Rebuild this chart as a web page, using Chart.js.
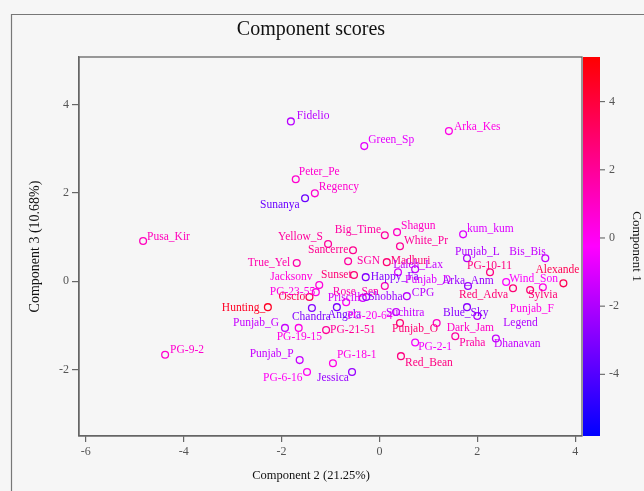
<!DOCTYPE html>
<html>
<head>
<meta charset="utf-8">
<script src="https://cdn.jsdelivr.net/npm/chart.js@4.4.1/dist/chart.umd.min.js"></script>
<style>
  html, body { margin: 0; padding: 0; background: #f6f6f6; }
  canvas { display: block; }
</style>
</head>
<body>
<canvas id="scores" width="644" height="491"></canvas>
<script>
// Cultivar scores on the first three principal components
const cultivars = [
  'Fidelio','Green_Sp','Arka_Kes','Peter_Pe','Regency','Sunanya','Pusa_Kir','Yellow_S',
  'Sancerre','Big_Time','Shagun','White_Pr','kum_kum','True_Yel','SGN','Madhuri',
  'Laleh_Lax','Punjab_L','Bis_Bis','PG-10-11','Alexande','Wind_Son','Jacksonv','Sunset',
  'Happy_Fa','Punjab_D','Arka_Anm','Red_Adva','Sylvia','PG-23-55','Oscio','Rose_Sen',
  'Priscill','Shobha','CPG','Hunting_','Chandra','Angela','PG-20-64','Suchitra',
  'Blue_Sky','Punjab_F','Legend','Punjab_G','PG-19-15','PG-21-51','Punjab_O','Dark_Jam',
  'Praha','Dhanavan','PG-2-1','Red_Bean','Punjab_P','PG-18-1','PG-6-16','Jessica','PG-9-2'
];
// Component 2 (x)
const comp2 = [
  -1.81,-0.31, 1.42,-1.71,-1.32,-1.52,-4.83,-1.05,
  -0.54, 0.11, 0.36, 0.42, 1.71,-1.69,-0.64, 0.15,
   0.73, 1.79, 3.39, 2.26, 3.76, 2.59,-1.23,-0.52,
  -0.28, 0.38, 1.81, 2.73, 3.08,-1.30,-1.43, 0.11,
  -0.34,-0.27, 0.56,-2.28,-1.38,-0.87,-0.68, 0.34,
   1.79, 3.34, 2.00,-1.93,-1.65,-1.09, 0.42, 1.17,
   1.55, 2.38, 0.73, 0.44,-1.63,-0.95,-1.48,-0.56,-4.38
];
// Component 3 (y)
const comp3 = [
   3.62, 3.06, 3.40, 2.31, 1.99, 1.88, 0.91, 0.84,
   0.70, 1.04, 1.11, 0.79, 1.06, 0.41, 0.45, 0.43,
   0.27, 0.52, 0.52, 0.20,-0.05,-0.02,-0.09, 0.14,
   0.09, 0.20,-0.11,-0.16,-0.20,-0.25,-0.36,-0.11,
  -0.38,-0.36,-0.34,-0.59,-0.61,-0.59,-0.48,-0.70,
  -0.59,-0.14,-0.79,-1.06,-1.06,-1.11,-0.95,-0.95,
  -1.25,-1.30,-1.39,-1.70,-1.79,-1.86,-2.06,-2.06,-1.67
];
// Component 1 (point colour)
const comp1 = [
  -1.8,-0.8, 0.3, 0.8, 0.8,-3.5, 1.2, 1.9,
   2.2, 1.8, 1.0, 2.0,-1.0, 1.6, 1.8, 2.8,
  -1.5,-2.0,-1.5, 2.5, 3.5,-0.3, 0.5, 2.8,
  -3.0,-1.0,-2.5, 2.8, 2.8, 0.3, 3.5, 1.5,
  -1.2,-2.5,-1.8, 4.5,-3.0,-3.2, 0.0,-1.5,
  -2.8, 0.3,-2.0,-1.5, 0.3, 2.0, 2.8, 1.0,
   1.8,-1.5,-0.5, 2.5,-1.5, 0.3, 0.0,-2.5, 0.8
];

const xTicks = [-6, -4, -2, 0, 2, 4];
const yTicks = [-2, 0, 2, 4];
const colorTicks = [-4, -2, 0, 2, 4];
const colorRange = [-5.81, 5.31];

// Where each name sits relative to its circle: [dx to text start, dy to text middle], px
const labelOffset = {
  'Fidelio':[6,-5], 'Green_Sp':[4,-6], 'Arka_Kes':[5,-4], 'Peter_Pe':[3,-7], 'Regency':[4,-6],
  'Sunanya':[-45,7], 'Pusa_Kir':[4,-4], 'Yellow_S':[-50,-7], 'Sancerre':[-45,0], 'Big_Time':[-50,-5],
  'Shagun':[4,-6], 'White_Pr':[4,-5], 'kum_kum':[4,-5], 'True_Yel':[-49,0], 'SGN':[9,0],
  'Madhuri':[4,-1], 'Laleh_Lax':[-22,-4], 'Punjab_L':[-12,-6], 'Bis_Bis':[-36,-6], 'PG-10-11':[-23,-6],
  'Alexande':[-28,-13], 'Wind_Son':[3,-3], 'Jacksonv':[-49,-8], 'Sunset':[-33,0], 'Happy_Fa':[5,0],
  'Punjab_D':[7,8], 'Arka_Anm':[-26,-5], 'Red_Adva':[-54,7], 'Sylvia':[-2,5], 'PG-23-55':[-46,0],
  'Oscio':[-31,0], 'Rose_Sen':[-52,6], 'Priscill':[-35,0], 'Shobha':[2,0], 'CPG':[5,-3],
  'Hunting_':[-46,1], 'Chandra':[-20,9], 'Angela':[-9,8], 'PG-20-64':[1,14], 'Suchitra':[-10,1],
  'Blue_Sky':[-24,6], 'Punjab_F':[-33,22], 'Legend':[26,7], 'Punjab_G':[-52,-5], 'PG-19-15':[-22,9],
  'PG-21-51':[4,0], 'Punjab_O':[-8,6], 'Dark_Jam':[10,5], 'Praha':[4,7], 'Dhanavan':[-2,5],
  'PG-2-1':[3,5], 'Red_Bean':[4,7], 'Punjab_P':[-50,-6], 'PG-18-1':[4,-8], 'PG-6-16':[-44,6],
  'Jessica':[-35,6], 'PG-9-2':[5,-5]
};

const SERIF = '"Liberation Serif", "DejaVu Serif", serif';

function scoreColor(v) {
  let t = (v - colorRange[0]) / (colorRange[1] - colorRange[0]);
  t = Math.max(0, Math.min(1, t));
  let r, b;
  if (t < 0.5) { r = Math.round(510 * t); b = 255; }
  else { r = 255; b = Math.round(255 * (1 - (t - 0.5) * 2)); }
  return `rgb(${r},0,${b})`;
}
const pointColors = comp1.map(scoreColor);

// Panel border, plot frame, point names, colour key and titles
const decorations = {
  id: 'decorations',
  afterDatasetsDraw(chart) {
    const ctx = chart.ctx;
    const meta = chart.getDatasetMeta(0);
    ctx.save();
    ctx.font = '11.5px ' + SERIF;
    ctx.textBaseline = 'middle';
    ctx.textAlign = 'left';
    meta.data.forEach((pt, i) => {
      const off = labelOffset[cultivars[i]] || [4, -5];
      ctx.fillStyle = pointColors[i];
      ctx.fillText(cultivars[i], pt.x + off[0], pt.y + off[1]);
    });
    ctx.restore();
  },
  afterDraw(chart) {
    const ctx = chart.ctx;
    const a = chart.chartArea;
    ctx.save();
    // outer panel edge
    ctx.strokeStyle = '#777';
    ctx.lineWidth = 1.2;
    ctx.beginPath();
    ctx.moveTo(11.5, chart.height);
    ctx.lineTo(11.5, 14.5);
    ctx.lineTo(chart.width, 14.5);
    ctx.stroke();
    // plot frame
    ctx.strokeStyle = '#666';
    ctx.lineWidth = 1.3;
    ctx.strokeRect(a.left, a.top, a.right - a.left, a.bottom - a.top);

    // colour key
    const kx = a.right + 1, kw = 17;
    const g = ctx.createLinearGradient(0, a.bottom, 0, a.top);
    g.addColorStop(0, scoreColor(colorRange[0]));
    g.addColorStop(0.5, scoreColor((colorRange[0] + colorRange[1]) / 2));
    g.addColorStop(1, scoreColor(colorRange[1]));
    ctx.fillStyle = g;
    ctx.fillRect(kx, a.top, kw, a.bottom - a.top);
    ctx.strokeStyle = '#555';
    ctx.lineWidth = 1;
    ctx.font = '12px ' + SERIF;
    ctx.fillStyle = '#555';
    ctx.textAlign = 'left';
    ctx.textBaseline = 'middle';
    colorTicks.forEach(v => {
      const y = a.bottom - (v - colorRange[0]) / (colorRange[1] - colorRange[0]) * (a.bottom - a.top);
      ctx.beginPath();
      ctx.moveTo(kx + kw, y);
      ctx.lineTo(kx + kw + 5, y);
      ctx.stroke();
      ctx.fillText(String(v), kx + kw + 9, y);
    });

    // titles
    ctx.fillStyle = '#111';
    ctx.textAlign = 'center';
    ctx.font = '20px ' + SERIF;
    ctx.fillText('Component scores', 311, 30);
    ctx.font = '12.5px ' + SERIF;
    ctx.fillText('Component 2 (21.25%)', 311, 476);
    ctx.save();
    ctx.font = '14px ' + SERIF;
    ctx.translate(35, (a.top + a.bottom) / 2);
    ctx.rotate(-Math.PI / 2);
    ctx.fillText('Component 3 (10.68%)', 0, 0);
    ctx.restore();
    ctx.save();
    ctx.font = '13px ' + SERIF;
    ctx.translate(636, (a.top + a.bottom) / 2);
    ctx.rotate(Math.PI / 2);
    ctx.fillText('Component 1', 0, 0);
    ctx.restore();
    ctx.restore();
  }
};

const axisStyle = {
  grid: { drawOnChartArea: false, drawTicks: true, tickLength: 6, color: '#666', lineWidth: 1.2 },
  border: { display: true, color: '#666', width: 1.3 },
  ticks: { font: { family: SERIF, size: 12 }, color: '#555', padding: 3 }
};

new Chart(document.getElementById('scores'), {
  type: 'scatter',
  data: {
    datasets: [{
      data: cultivars.map((n, i) => ({ x: comp2[i], y: comp3[i] })),
      pointRadius: 3.4,
      pointHoverRadius: 3.4,
      pointBorderWidth: 1.3,
      pointBackgroundColor: 'rgba(0,0,0,0)',
      pointBorderColor: pointColors
    }]
  },
  options: {
    responsive: false,
    animation: false,
    devicePixelRatio: 1,
    layout: { padding: { left: 0, right: 62, top: 57, bottom: 0 } },
    plugins: { legend: { display: false }, tooltip: { enabled: false }, title: { display: false } },
    scales: {
      x: Object.assign({
        type: 'linear', min: -6.14, max: 4.14,
        afterBuildTicks: s => { s.ticks = xTicks.map(v => ({ value: v })); },
        afterFit: s => { s.height = 55; }
      }, axisStyle),
      y: Object.assign({
        type: 'linear', min: -3.51, max: 5.08,
        afterBuildTicks: s => { s.ticks = yTicks.map(v => ({ value: v })); },
        afterFit: s => { s.width = 79; }
      }, axisStyle, { grid: Object.assign({}, axisStyle.grid, { tickLength: 7 }) })
    }
  },
  plugins: [decorations]
});
</script>
</body>
</html>
